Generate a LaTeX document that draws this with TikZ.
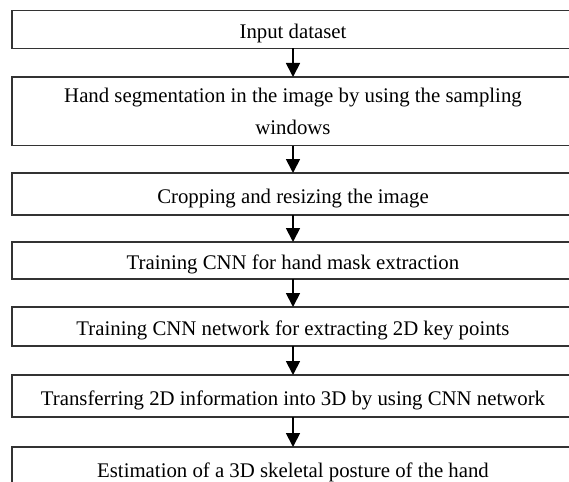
\documentclass[tikz,border=0pt]{standalone}
\usepackage{fontspec}
\setmainfont{Liberation Serif}
\usetikzlibrary{arrows.meta,positioning}

\begin{document}
\begin{tikzpicture}[x=1pt,y=1pt,
    stage/.style={draw=black!80, line width=1.3pt, minimum width=562pt,
        inner sep=0pt, outer sep=0pt, align=center,
        font=\fontsize{20.8}{32}\selectfont},
    oneline/.style={stage, text height=18pt, text depth=0pt},
    flow/.style={-{Triangle[width=14pt,length=14pt]}, line width=1.8pt}]
    \useasboundingbox (0,0) rectangle (569,-481);
    \clip (0,0) rectangle (569,-481);

    % Steps, top to bottom
    \node[oneline, minimum height=37.6pt] (input) at (293,-29.5) {Input dataset};
    \node[stage, minimum height=68.7pt, below=28.7pt of input] (segment)
        {Hand segmentation in the image by using the sampling\\windows};
    \node[oneline, minimum height=42pt, below=27.3pt of segment] (crop)
        {Cropping and resizing the image};
    \node[oneline, minimum height=37pt, below=27pt of crop] (masknet)
        {Training CNN for hand mask extraction};
    \node[oneline, minimum height=39pt, below=28pt of masknet] (keynet)
        {Training CNN network for extracting 2D key points};
    \node[oneline, minimum height=42pt, below=29pt of keynet] (lift)
        {Transferring 2D information into 3D by using CNN network};
    \node[oneline, minimum height=42pt, below=30pt of lift] (posture)
        {Estimation of a 3D skeletal posture of the hand};

    % Arrows between steps
    \foreach \a/\b in {input/segment, segment/crop, crop/masknet,
                       masknet/keynet, keynet/lift, lift/posture}
        \draw[flow] (\a) -- (\b);
\end{tikzpicture}
\end{document}
